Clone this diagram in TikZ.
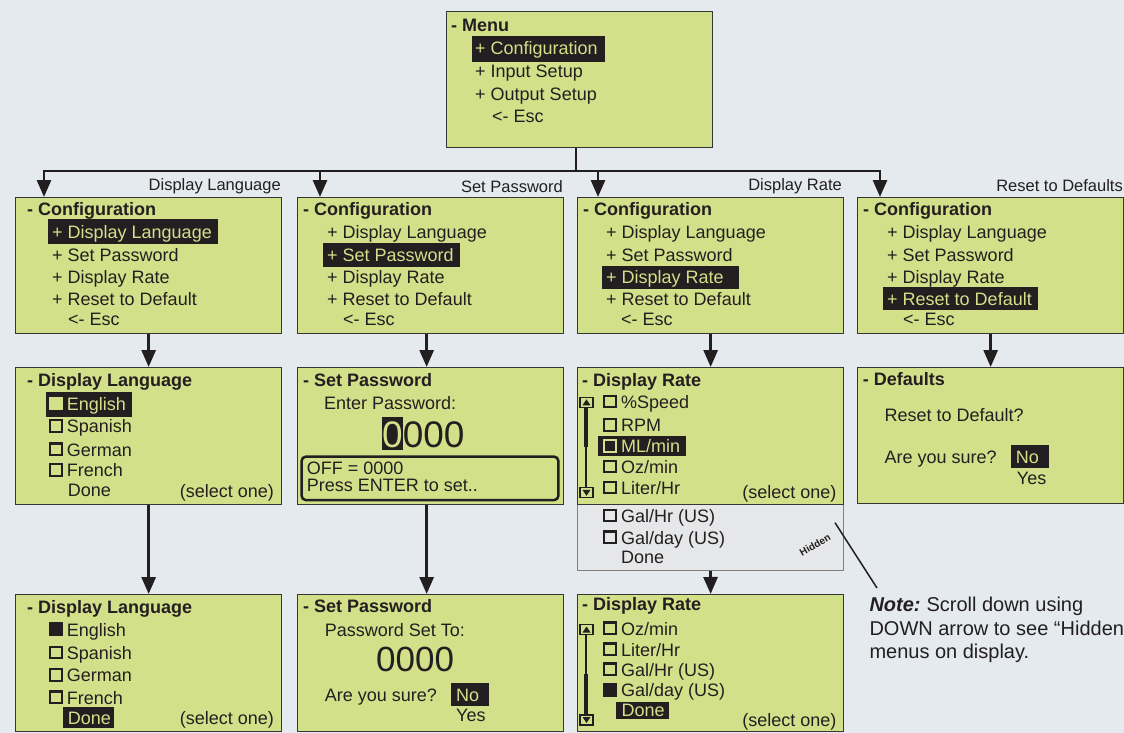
\documentclass[tikz,border=0pt]{standalone}
\usepackage{fontspec}
\setmainfont{Liberation Sans}
\usetikzlibrary{calc,arrows.meta}
\definecolor{bgc}{HTML}{E5EAEF}
\definecolor{lcd}{HTML}{D3E08A}
\definecolor{hid}{HTML}{E6E7E8}
\definecolor{ink}{HTML}{231F20}
\definecolor{frm}{HTML}{363636}
\newcommand\ckb[3][cbx]{\draw[#1] ({#2+1},{#3-1}) rectangle ({#2+13},{#3-12.5});}
\newcommand\sbup[2]{\draw[sbx] (#1,#2) rectangle ++(13,10);
  \fill[ink] ({#1+2.5},{#2+8}) -- ({#1+10.5},{#2+8}) -- ({#1+6.5},{#2+2}) -- cycle;}
\newcommand\sbdn[2]{\draw[sbx] (#1,#2) rectangle ++(13,10);
  \fill[ink] ({#1+2.5},{#2+2}) -- ({#1+10.5},{#2+2}) -- ({#1+6.5},{#2+8}) -- cycle;}
\begin{document}
\begin{tikzpicture}[x=1pt,y=-1pt,
  scr/.style={draw=frm, line width=1.3pt, fill=lcd, minimum width=266pt, anchor=north west, inner sep=0pt},
  hidbox/.style={draw=black!50, line width=1pt, fill=hid, minimum width=266pt, anchor=north west, inner sep=0pt},
  t/.style={anchor=base west, inner sep=0pt, text=ink, font=\fontsize{18}{20}\selectfont},
  hd/.style={t, font=\fontsize{18}{20}\selectfont\bfseries},
  ht/.style={t, text=lcd},
  se/.style={t, anchor=base east},
  lb/.style={anchor=base east, inner sep=0pt, text=ink, font=\fontsize{16.5}{18}\selectfont},
  big/.style={t, font=\fontsize{37}{40}\selectfont},
  nt/.style={t, font=\fontsize{20}{23}\selectfont},
  hl/.style={fill=ink},
  cbx/.style={draw=ink, line width=2.2pt, fill=lcd},
  cbh/.style={draw=ink, line width=2.2pt, fill=hid},
  cbf/.style={draw=ink, line width=2.2pt, fill=ink},
  sbx/.style={draw=ink, line width=1.2pt, fill=lcd},
  conn/.style={draw=ink, line width=2.8pt},
  arr/.style={conn, -{Triangle[length=17pt,width=14pt]}},
]
\fill[bgc] (0,0) rectangle (1124,733);
\useasboundingbox (0,0) rectangle (1124,733);

% ---------- boxes ----------
\node[scr, minimum height=136pt] (menu) at (446,11) {};
\node[scr, minimum height=136pt] (c1) at (15,197) {};
\node[scr, minimum height=136pt] (c2) at (297,197) {};
\node[scr, minimum height=136pt] (c3) at (577,197) {};
\node[scr, minimum height=136pt] (c4) at (857,197) {};
\node[scr, minimum height=137pt] (d1) at (15,367) {};
\node[scr, minimum height=137pt] (d2) at (297,367) {};
\node[hidbox, minimum height=66pt] (d3h) at (577,504) {};
\node[scr, minimum height=137pt] (d3) at (577,367) {};
\node[scr, minimum height=136pt] (d4) at (857,367) {};
\node[scr, minimum height=137pt] (e1) at (15,594) {};
\node[scr, minimum height=137pt] (e2) at (297,594) {};
\node[scr, minimum height=137pt] (e3) at (577,594) {};

% ---------- connectors ----------
\coordinate (hub) at (576,171);
\coordinate (a1) at (44,197);
\coordinate (a2) at (320,197);
\coordinate (a3) at (598,197);
\coordinate (a4) at (880,197);
\draw[conn] (menu.south -| hub) -- (hub);
\draw[arr] (hub) -| (a1);
\draw[arr] (hub) -| (a2);
\draw[arr] (hub) -| (a3);
\draw[arr] (hub) -| (a4);
\draw[arr] (c1.south) -- (d1.north);
\draw[arr] ($(c2.south)+(-4,0)$) -- ($(d2.north)+(-4,0)$);
\draw[arr] (c3.south) -- (d3.north);
\draw[arr] (c4.south) -- (d4.north);
\draw[arr] (d1.south) -- (e1.north);
\draw[arr] ($(d2.south)+(-4,0)$) -- ($(e2.north)+(-4,0)$);
\draw[arr] (d3h.south) -- (e3.north);

% ---------- labels ----------
\node[lb] (l1) at (281,190) {Display Language};
\node[lb] (l2) at (563,192) {Set Password};
\node[lb] (l3) at (842,190) {Display Rate};
\node[lb] (l4) at (1123,191.5) {Reset to Defaults};

% ---------- menu ----------
\fill[hl] (472,36) rectangle (605,62);
\node[hd] (m0) at (451,32) {- Menu};
\node[ht] (m1) at (475,55) {+ Configuration};
\node[t] (m2) at (475,78) {+ Input Setup};
\node[t] (m3) at (475,101) {+ Output Setup};
\node[t] (m4) at (492,123) {<- Esc};

% ---------- configuration boxes ----------
\fill[hl] (48,219) rectangle (218,244);
\node[hd] (c1h) at (27,215) {- Configuration};
\node[ht] (c1a) at (52,238) {+ Display Language};
\node[t] (c1b) at (52,261) {+ Set Password};
\node[t] (c1c) at (52,283.5) {+ Display Rate};
\node[t] (c1d) at (52,305.5) {+ Reset to Default};
\node[t] (c1e) at (68,325.5) {<- Esc};

\fill[hl] (322.7,243) rectangle (460,266.7);
\node[hd] (c2h) at (303,215) {- Configuration};
\node[t] (c2a) at (327,238) {+ Display Language};
\node[ht] (c2b) at (327,261) {+ Set Password};
\node[t] (c2c) at (327,283.5) {+ Display Rate};
\node[t] (c2d) at (327,305.5) {+ Reset to Default};
\node[t] (c2e) at (343,325.5) {<- Esc};

\fill[hl] (601.7,266) rectangle (739,289.3);
\node[hd] (c3h) at (583,215) {- Configuration};
\node[t] (c3a) at (606,238) {+ Display Language};
\node[t] (c3b) at (606,261) {+ Set Password};
\node[ht] (c3c) at (606,283.5) {+ Display Rate};
\node[t] (c3d) at (606,305.5) {+ Reset to Default};
\node[t] (c3e) at (621,325.5) {<- Esc};

\fill[hl] (883,287) rectangle (1038,309.5);
\node[hd] (c4h) at (863,215) {- Configuration};
\node[t] (c4a) at (887,238) {+ Display Language};
\node[t] (c4b) at (887,261) {+ Set Password};
\node[t] (c4c) at (887,283.5) {+ Display Rate};
\node[ht] (c4d) at (887,305.5) {+ Reset to Default};
\node[t] (c4e) at (903,325.5) {<- Esc};

% ---------- display language (select) ----------
\fill[hl] (46,391.7) rectangle (131.7,416.7);
\fill[lcd] (49,396.5) rectangle (63,410);
\node[hd] (d1h) at (27,386.7) {- Display Language};
\node[ht] (d1a) at (66.7,410) {English};
\ckb{49}{432.7}\node[t] (d1b) at (66.7,432.7) {Spanish};
\ckb{49}{456}\node[t] (d1c) at (66.7,456) {German};
\ckb{49}{476.7}\node[t] (d1d) at (66.7,476.7) {French};
\node[t] (d1e) at (67.7,496.7) {Done};
\node[se] (d1s) at (274,497) {(select one)};

% ---------- set password (enter) ----------
\node[hd] (d2h) at (303,386) {- Set Password};
\node[t] (d2a) at (324,409) {Enter Password:};
\fill[hl] (382,416.7) rectangle (403,450);
\node[big] (d2b) at (382,447) {{\color{lcd}0}000};
\draw[draw=ink, line width=2.5pt, rounded corners=4pt] (301.7,456.7) rectangle (558.3,500);
\node[t] (d2c) at (306.7,474) {OFF = 0000};
\node[t] (d2d) at (306.7,491.5) {Press ENTER to set..};

% ---------- display rate (select) ----------
\node[hd] (d3t) at (582,386) {- Display Rate};
\fill[ink] (584,407.3) rectangle (588.3,446.7);
\draw[ink, line width=1.5pt] (586.2,446) -- (586.2,487.3);
\sbup{580}{397.3}
\sbdn{580}{487.8}
\ckb{603}{408.3}\node[t] (d3a) at (621,408.3) {\%Speed};
\ckb{603}{431.7}\node[t] (d3b) at (621,431.7) {RPM};
\fill[hl] (598.3,436) rectangle (685.7,456);
\draw[draw=lcd, line width=2pt, fill=ink] (604,451.7) rectangle (616,440.2);
\node[ht] (d3c) at (621,452.7) {ML/min};
\ckb{603}{473.3}\node[t] (d3d) at (621,473.3) {Oz/min};
\ckb{603}{494.3}\node[t] (d3e) at (621,494.3) {Liter/Hr};
\node[se] (d3s) at (836.7,498) {(select one)};
\ckb[cbh]{603}{522.3}\node[t] (d3f) at (621,522.3) {Gal/Hr (US)};
\ckb[cbh]{603}{544}\node[t] (d3g) at (621,544) {Gal/day (US)};
\node[t] (d3k) at (621,563.3) {Done};
\node[anchor=center, inner sep=0pt, text=ink, rotate=30, font=\fontsize{10}{11}\selectfont\bfseries] (hidl) at (815,545) {Hidden};

% ---------- defaults ----------
\node[hd] (d4h) at (862.7,385) {- Defaults};
\node[t] (d4a) at (884.3,421.7) {Reset to Default?};
\node[t] (d4b) at (884.3,463.3) {Are you sure?};
\fill[hl] (1011,445) rectangle (1049,467.7);
\node[ht] (d4c) at (1015.7,463.3) {No};
\node[t] (d4d) at (1016.7,484.3) {Yes};

% ---------- display language (done) ----------
\node[hd] (e1h) at (27,613.3) {- Display Language};
\ckb[cbf]{49}{636}\node[t] (e1a) at (66.7,636) {English};
\ckb{49}{659.3}\node[t] (e1b) at (66.7,659.3) {Spanish};
\ckb{49}{681.7}\node[t] (e1c) at (66.7,681.7) {German};
\ckb{49}{704}\node[t] (e1d) at (66.7,704) {French};
\fill[hl] (63,706.7) rectangle (113.8,727.7);
\node[ht] (e1e) at (67.7,724) {Done};
\node[se] (e1s) at (274,724) {(select one)};

% ---------- set password (confirm) ----------
\node[hd] (e2h) at (303,612.7) {- Set Password};
\node[t] (e2a) at (324.7,636.7) {Password Set To:};
\node[big, font=\fontsize{35}{38}\selectfont] (e2b) at (376,671.7) {0000};
\node[t] (e2c) at (324.7,701.7) {Are you sure?};
\fill[hl] (451,682.7) rectangle (489,706);
\node[ht] (e2d) at (456,701.7) {No};
\node[t] (e2e) at (456,721.7) {Yes};

% ---------- display rate (done) ----------
\node[hd] (e3h) at (582,610) {- Display Rate};
\draw[ink, line width=1.5pt] (586.2,634) -- (586.2,675);
\fill[ink] (584,674) rectangle (588.3,715);
\sbup{580}{624.5}
\sbdn{580}{715}
\ckb{603}{635}\node[t] (e3a) at (621,635) {Oz/min};
\ckb{603}{656}\node[t] (e3b) at (621,656) {Liter/Hr};
\ckb{603}{676}\node[t] (e3c) at (621,676) {Gal/Hr (US)};
\ckb[cbf]{603}{696.7}\node[t] (e3d) at (621,696.7) {Gal/day (US)};
\fill[hl] (616,701.7) rectangle (669,719.3);
\node[ht] (e3e) at (621.5,716) {Done};
\node[se] (e3s) at (836.7,726.7) {(select one)};

% ---------- note ----------
\coordinate (hp) at (835,522.7);
\coordinate (np) at (877,588);
\draw[ink, line width=1.5pt] (hp) -- (np);
\node[nt] (n1) at (869.3,611.7) {\textbf{\textit{Note:}}\kern-1.5pt{} Scroll down using};
\node[nt] (n2) at (869.3,635) {DOWN arrow to see “Hidden”};
\node[nt] (n3) at (869.3,658) {menus on display.};
\end{tikzpicture}
\end{document}
